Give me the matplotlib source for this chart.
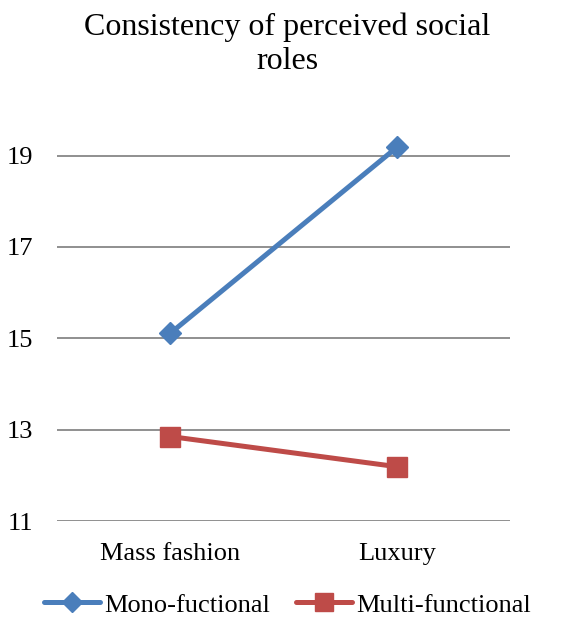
import matplotlib
matplotlib.use("Agg")
import matplotlib.pyplot as plt

plt.rcParams['font.family'] = ['Liberation Serif', 'DejaVu Serif']

categories = ["Mass fashion", "Luxury"]
mono = [15.11, 19.18]
multi = [12.85, 12.19]
yticks = [11, 13, 15, 17, 19]

fig = plt.figure(figsize=(5.72, 6.21), dpi=100)
ax = fig.add_axes([0.0997, 0.161, 0.792, 0.662])

x = list(range(len(categories)))
ax.plot(x, mono, color="#4A7EBB", lw=3.6, marker="D", ms=11.5, mec="#4A7EBB",
        mfc="#4A7EBB", solid_capstyle="round", label="Mono-fuctional", zorder=3)
ax.plot(x, multi, color="#BE4B48", lw=3.6, marker="s", ms=14.5, mec="#BE4B48",
        mfc="#BE4B48", solid_capstyle="round", label="Multi-functional", zorder=3)

ax.set_xlim(-0.5, 1.5)
ax.set_ylim(11, 20)
ax.set_yticks(yticks)
ax.set_xticks(x)
ax.set_xticklabels(categories)
ax.yaxis.grid(True, color="#878787", lw=1.3)
ax.set_axisbelow(True)
for s in ax.spines.values():
    s.set_visible(False)
ax.tick_params(length=0, labelsize=19)
ax.tick_params(axis="y", pad=17)
ax.tick_params(axis="x", pad=16)

fig.suptitle("Consistency of perceived social\nroles", fontsize=23, x=0.502,
             y=0.98, linespacing=1.25)

fig.legend(loc="center", bbox_to_anchor=(0.503, 0.026), ncol=2,
           frameon=False, fontsize=19, handlelength=2.12, handletextpad=0.15,
           columnspacing=1.0, markerscale=0.85)

fig.savefig("out.png", dpi=100)
